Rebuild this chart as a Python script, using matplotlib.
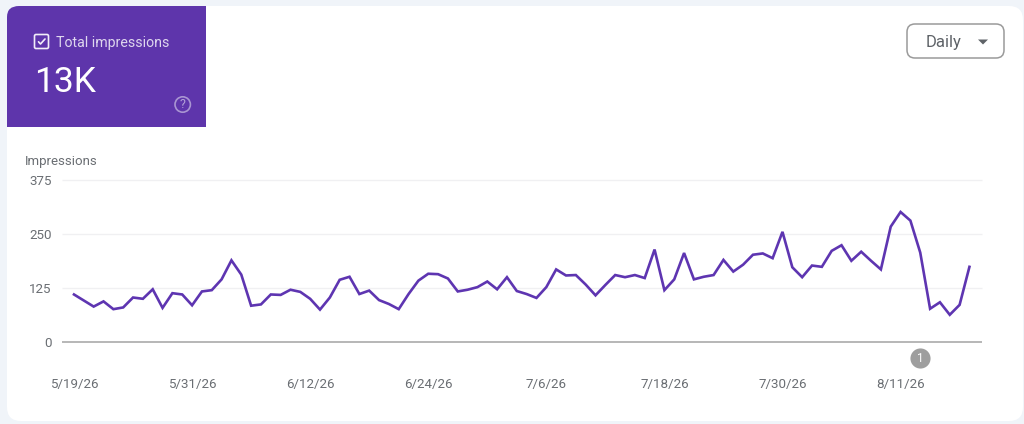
import matplotlib
matplotlib.use("Agg")
import matplotlib.pyplot as plt
import matplotlib.dates as mdates
from matplotlib.patches import FancyBboxPatch, PathPatch, Circle, Polygon
from matplotlib.path import Path
from matplotlib.transforms import blended_transform_factory
import numpy as np
import pandas as pd

plt.rcParams['font.family'] = ['Roboto', 'DejaVu Sans']

start_date = "2026-05-19"
impressions = [
    110, 96, 82, 94, 76, 80, 103, 100, 122, 79, 113, 110, 85, 117, 120, 145,
    189, 156, 84, 87, 110, 109, 121, 116, 100, 75, 103, 144, 151, 111, 119,
    97, 88, 76, 111, 142, 158, 157, 147, 117, 121, 127, 140, 122, 150, 118,
    111, 102, 127, 168, 154, 155, 133, 108, 132, 155, 150, 155, 148, 214,
    120, 145, 206, 145, 151, 155, 190, 163, 179, 202, 205, 194, 255, 173,
    150, 177, 174, 211, 224, 188, 209, 188, 168, 267, 301, 281, 207, 77,
    92, 63, 86, 174,
]
y_ticks = [0, 125, 250, 375]
x_tick_dates = ["2026-05-19", "2026-05-31", "2026-06-12", "2026-06-24",
                "2026-07-06", "2026-07-18", "2026-07-30", "2026-08-11"]
x_tick_labels = ["5/19/26", "5/31/26", "6/12/26", "6/24/26",
                 "7/6/26", "7/18/26", "7/30/26", "8/11/26"]
annotation_dates = ["2026-08-13"]
annotation_labels = ["1"]

W, H = 1024, 424
PURPLE = "#5e35ab"
LINE = "#5e35b1"
GREY = "#6a6e73"

dates = pd.date_range(start_date, periods=len(impressions), freq="D")
fig = plt.figure(figsize=(W / 100, H / 100), dpi=100, facecolor="#f0f4f9")

# Page furniture, in pixel coordinates
bg = fig.add_axes([0, 0, 1, 1], zorder=0)
bg.set_xlim(0, W)
bg.set_ylim(H, 0)
bg.axis("off")

bg.add_patch(FancyBboxPatch((7 + 14, 6 + 14), 1016 - 28, 415 - 28,
                            boxstyle="round,pad=14,rounding_size=14",
                            fc="white", ec="none"))

tile = Path([(7, 127), (7, 17), (7, 6), (19, 6), (206, 6), (206, 127), (7, 127)],
            [Path.MOVETO, Path.LINETO, Path.CURVE3, Path.CURVE3,
             Path.LINETO, Path.LINETO, Path.CLOSEPOLY])
bg.add_patch(PathPatch(tile, fc=PURPLE, ec="none"))

bg.add_patch(FancyBboxPatch((35.5, 35.5), 12, 12,
                            boxstyle="round,pad=1,rounding_size=1.5",
                            fc="none", ec="#f1edf8", lw=1.2))
bg.plot([38.5, 40.5, 45], [41.8, 44, 39], color="#f1edf8", lw=1.2,
        solid_capstyle="round", solid_joinstyle="round")
bg.text(56, 42.5, "Total impressions", color="#ded7ee", fontsize=10.2,
        ha="left", va="center")
bg.text(34.5, 92, "13K", color="white", fontsize=25.5, ha="left", va="baseline")
bg.add_patch(Circle((182.7, 104.5), 7.7, fc="none", ec="#a995d2", lw=1.2))
bg.text(182.7, 105, "?", color="#b5a4d9", fontsize=9, ha="center", va="center")

bg.add_patch(FancyBboxPatch((915, 32), 81, 18,
                            boxstyle="round,pad=8,rounding_size=8",
                            fc="white", ec="#9a9a9a", lw=1.1))
bg.text(926, 42, "Daily", color="#5f6368", fontsize=12, ha="left", va="center")
bg.add_patch(Polygon([(978, 39.5), (988, 39.5), (983, 44.5)], fc="#5f6368", ec="none"))

bg.text(25, 161, "Impressions", color=GREY, fontsize=9.5, ha="left", va="center")

# Chart
ax = fig.add_axes([62 / W, (H - 342) / H, 920 / W, 162 / H], zorder=1)
ax.patch.set_alpha(0)
px_per_day = 9.84
ax.set_xlim(dates[0] - pd.Timedelta(days=12 / px_per_day),
            dates[0] + pd.Timedelta(days=908 / px_per_day))
ax.set_ylim(0, 375)
for s in ax.spines.values():
    s.set_visible(False)

for v in y_ticks[1:]:
    ax.axhline(v, color="#f0f0f2", lw=1.0, zorder=1, clip_on=False, solid_capstyle="butt")
ax.axhline(0, color="#a3a3a3", lw=1.1, zorder=2, clip_on=False, solid_capstyle="butt")

ax.plot(dates, impressions, color=LINE, lw=1.9, zorder=3,
        solid_joinstyle="miter", clip_on=False)

ax.set_yticks(y_ticks)
ax.set_yticklabels([str(v) for v in y_ticks], color=GREY, fontsize=9.6)
ax.tick_params(axis="y", length=0, pad=7.5)
ax.set_xticks(pd.to_datetime(x_tick_dates))
ax.set_xticklabels(x_tick_labels, color=GREY, fontsize=9.6)
ax.tick_params(axis="x", length=0, pad=26)

trans = blended_transform_factory(ax.transData, ax.transAxes)
for d, lab in zip(annotation_dates, annotation_labels):
    xd = mdates.date2num(pd.Timestamp(d))
    yoff = -16 / 162
    ax.plot([xd], [yoff], marker="o", ms=14.5, mfc="#9e9e9e", mec="none",
            transform=trans, clip_on=False, zorder=4)
    ax.text(xd, yoff, lab, color="white", fontsize=8.5, ha="center", va="center",
            transform=trans, zorder=5)

fig.savefig("out.png", dpi=100, facecolor=fig.get_facecolor())
